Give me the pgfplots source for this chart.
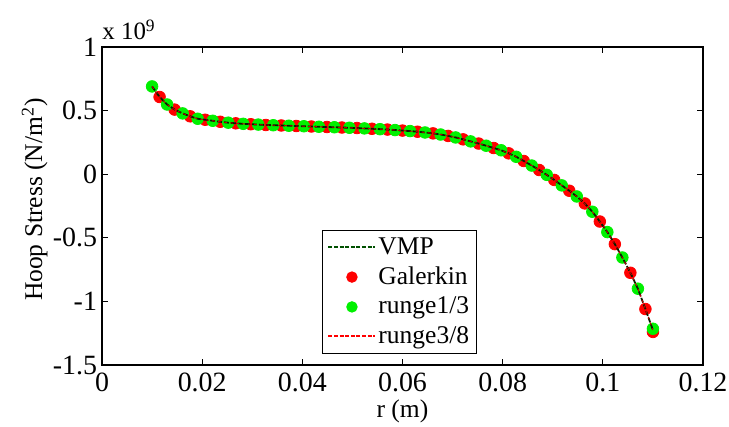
\documentclass[border=0pt]{standalone}
\usepackage{pgfplots}
\pgfplotsset{compat=1.18}
\usepackage{pgfplotstable}
\usepackage{fontspec}
\setmainfont{Liberation Serif}
\newfontfamily\tnr{Liberation Serif}
\definecolor{vmpgreen}{RGB}{0,80,0}
\definecolor{mgreen}{RGB}{0,240,0}
\definecolor{mred}{RGB}{255,0,0}

\pgfplotstableread{
r y
0.0100 0.690
0.0130 0.548
0.0161 0.478
0.0191 0.436
0.0221 0.420
0.0252 0.405
0.0282 0.396
0.0312 0.390
0.0342 0.385
0.0373 0.381
0.0403 0.377
0.0433 0.373
0.0464 0.369
0.0494 0.365
0.0524 0.360
0.0555 0.354
0.0585 0.347
0.0615 0.339
0.0645 0.328
0.0676 0.312
0.0706 0.289
0.0736 0.258
0.0767 0.224
0.0797 0.188
0.0827 0.137
0.0858 0.068
0.0888 -0.005
0.0918 -0.088
0.0948 -0.175
0.0979 -0.295
0.1009 -0.455
0.1039 -0.655
0.1070 -0.900
0.1100 -1.215
}\rungeA

\pgfplotstableread{
r y
0.0115 0.607
0.0145 0.508
0.0176 0.455
0.0206 0.428
0.0236 0.412
0.0267 0.400
0.0297 0.393
0.0327 0.387
0.0358 0.383
0.0388 0.379
0.0418 0.375
0.0449 0.371
0.0479 0.367
0.0509 0.363
0.0539 0.357
0.0570 0.351
0.0600 0.343
0.0630 0.334
0.0661 0.321
0.0691 0.301
0.0721 0.274
0.0752 0.241
0.0782 0.206
0.0812 0.164
0.0842 0.104
0.0873 0.033
0.0903 -0.045
0.0933 -0.130
0.0964 -0.230
0.0994 -0.372
0.1024 -0.550
0.1055 -0.775
0.1085 -1.060
0.1100 -1.240
}\galerkin

\pgfplotstableread{
r y
0.0100 0.690
0.0115 0.607
0.0130 0.548
0.0145 0.508
0.0161 0.478
0.0176 0.455
0.0191 0.436
0.0206 0.428
0.0221 0.420
0.0236 0.412
0.0252 0.405
0.0267 0.400
0.0282 0.396
0.0297 0.393
0.0312 0.390
0.0327 0.387
0.0342 0.385
0.0358 0.383
0.0373 0.381
0.0388 0.379
0.0403 0.377
0.0418 0.375
0.0433 0.373
0.0449 0.371
0.0464 0.369
0.0479 0.367
0.0494 0.365
0.0509 0.363
0.0524 0.360
0.0539 0.357
0.0555 0.354
0.0570 0.351
0.0585 0.347
0.0600 0.343
0.0615 0.339
0.0630 0.334
0.0645 0.328
0.0661 0.321
0.0676 0.312
0.0691 0.301
0.0706 0.289
0.0721 0.274
0.0736 0.258
0.0752 0.241
0.0767 0.224
0.0782 0.206
0.0797 0.188
0.0812 0.164
0.0827 0.137
0.0842 0.104
0.0858 0.068
0.0873 0.033
0.0888 -0.005
0.0903 -0.045
0.0918 -0.088
0.0933 -0.130
0.0948 -0.175
0.0964 -0.230
0.0979 -0.295
0.0994 -0.372
0.1009 -0.455
0.1024 -0.550
0.1039 -0.655
0.1055 -0.775
0.1070 -0.900
0.1085 -1.060
0.1100 -1.225
}\vmp

\begin{document}
\tnr
\begin{tikzpicture}
\begin{axis}[
  set layers=standard,
  scale only axis,
  width=300.5bp, height=159bp,
  xmin=0, xmax=0.12, ymin=-1.5, ymax=1,
  xtick={0,0.02,0.04,0.06,0.08,0.1,0.12},
  xticklabels={0,0.02,0.04,0.06,0.08,0.1,0.12},
  ytick={-1.5,-1,-0.5,0,0.5,1},
  yticklabels={-1.5,-1,-0.5,0,0.5,1},
  /pgf/number format/assume math mode=true,
  tick align=inside,
  major tick length=3bp,
  axis line style={line width=0.6pt},
  every tick/.style={black, line width=0.5pt},
  tick label style={font=\tnr\fontsize{14}{16}\selectfont},
  xticklabel style={yshift=-0.5bp},
  yticklabel style={xshift=1bp},
  label style={font=\tnr\fontsize{12.8}{15}\selectfont},
  xlabel={r (m)},
  ylabel={Hoop Stress (N/m\textsuperscript{2})},
  xlabel style={at={(axis description cs:0.5,-0.145)}, anchor=center},
  ylabel style={at={(axis description cs:-0.112,0.52)}, anchor=center},
  legend image code/.code={\draw[mark repeat=2,mark phase=2,#1] plot coordinates {(0bp,0bp) (11.75bp,0bp) (23.5bp,0bp)};},
  legend style={at={(rel axis cs:0.366,0.035)}, anchor=south west,
    draw=black, line width=0.5pt, font=\tnr\fontsize{12.8}{15}\selectfont,
    inner xsep=2.5bp, inner ysep=1.5bp, row sep=0.8bp,
    nodes={inner xsep=1bp}},
  legend cell align=left,
  clip=false,
]
\addlegendimage{vmpgreen, line width=1pt, dash pattern=on 2bp off 0.8bp}
\addlegendentry{VMP}
\addlegendimage{only marks, mark=*, mark size=2.6bp, mred, mark options={fill=mred, draw=mred}}
\addlegendentry{Galerkin}
\addlegendimage{only marks, mark=*, mark size=2.6bp, mgreen, mark options={fill=mgreen, draw=mgreen}}
\addlegendentry{runge1/3}
\addlegendimage{mred, line width=1pt, dash pattern=on 2bp off 0.8bp}
\addlegendentry{runge3/8}

\addplot[forget plot, only marks, mark=*, mark size=2.9bp, mark options={fill=mred, draw=mred}] table[x=r,y=y] {\galerkin};
\addplot[forget plot, only marks, mark=*, mark size=2.9bp, mark options={fill=mgreen, draw=mgreen}] table[x=r,y=y] {\rungeA};
\addplot[forget plot, on layer=axis foreground, vmpgreen!40!black, line width=0.9pt, dash pattern=on 2.5bp off 1bp] table[x=r,y=y] {\vmp};
\addplot[forget plot, on layer=axis foreground, mred!75!black, line width=0.45pt, dash pattern=on 1.5bp off 1.5bp] table[x=r,y=y] {\vmp};

\node[anchor=base west, inner sep=0pt, font=\tnr\fontsize{12.5}{14}\selectfont] at ([yshift=3.5bp]rel axis cs:0,1) {x 10\textsuperscript{9}};
\end{axis}
\pgfresetboundingbox
\path (-51bp,-31bp) rectangle (313.5bp,182.5bp);
\end{tikzpicture}
\end{document}
